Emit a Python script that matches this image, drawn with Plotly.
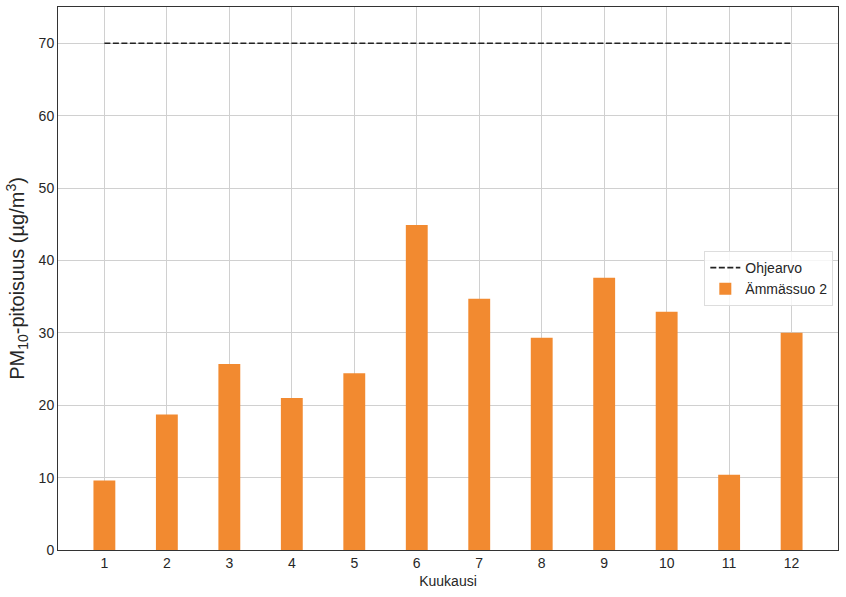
import plotly.graph_objects as go

months = list(range(1, 13))
values = [9.6, 18.7, 25.7, 21.0, 24.4, 44.9, 34.7, 29.3, 37.6, 32.9, 10.4, 30.0]
guide_x = [1, 12]
guide_y = [70, 70]
tick_labels = [str(m) for m in months]

fig = go.Figure()
fig.add_trace(go.Scatter(
    x=guide_x, y=guide_y, mode="lines", name="Ohjearvo",
    line=dict(color="#222222", width=1.6, dash="6px,2.5px"),
))
fig.add_trace(go.Bar(
    x=months, y=values, name="Ämmässuo 2", width=0.35,
    marker=dict(color="#f28a30", line=dict(width=0)),
))

fig.update_layout(
    width=846, height=597,
    margin=dict(l=58, r=8, t=7, b=47),
    plot_bgcolor="white", paper_bgcolor="white",
    font=dict(family="Liberation Sans, Arial, sans-serif", size=14, color="#262626"),
    showlegend=True,
    legend=dict(
        x=0.994, y=0.5, xanchor="right", yanchor="middle",
        bgcolor="rgba(255,255,255,0.8)", bordercolor="#dddddd", borderwidth=1,
        font=dict(size=14, color="#262626"),
    ),
    xaxis=dict(
        range=[0.2575, 12.7425], tickmode="array", tickvals=months, ticktext=tick_labels,
        showgrid=True, gridcolor="#d0d0d0", gridwidth=1,
        showline=True, linecolor="#333333", linewidth=1, mirror=True,
        ticks="", zeroline=False,
        title=dict(text="Kuukausi", font=dict(size=14), standoff=6),
    ),
    yaxis=dict(
        range=[0, 75], tickmode="array", tickvals=[0, 10, 20, 30, 40, 50, 60, 70],
        showgrid=True, gridcolor="#d0d0d0", gridwidth=1,
        showline=True, linecolor="#333333", linewidth=1, mirror=True,
        ticks="", zeroline=False,
        title=dict(text="PM<sub>10</sub>-pitoisuus (µg/m<sup>3</sup>)", font=dict(size=20), standoff=8),
    ),
)

fig.write_html(
    "out.html",
    config={"displayModeBar": False},
    post_script="document.body.style.margin='0';document.body.style.overflow='hidden';",
)
